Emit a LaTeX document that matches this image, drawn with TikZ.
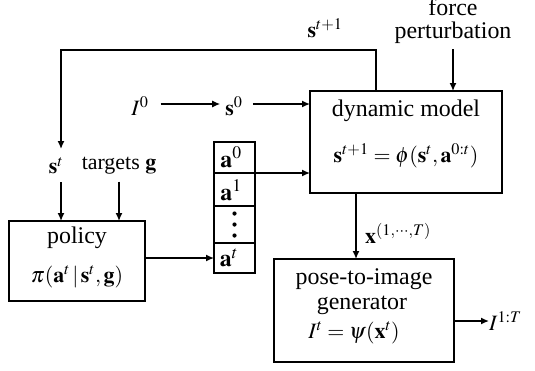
\documentclass[tikz,border=0pt]{standalone}
\usepackage{mathptmx}
\usepackage{fontspec}
\setmainfont{Liberation Serif}
\usetikzlibrary{arrows.meta}
\begin{document}
\begin{tikzpicture}[x=1bp,y=-1bp,
  box/.style={draw, line width=1.6bp, inner sep=0pt, outer sep=0pt},
  arr/.style={line width=1.4bp, -{Latex[length=8bp,width=7bp]}},
  txt/.style={inner sep=0pt, font=\fontsize{24}{28}\selectfont},
  lab/.style={inner sep=0pt, font=\fontsize{22}{26}\selectfont},
  cell/.style={inner sep=0pt, font=\fontsize{24}{28}\selectfont}]
\useasboundingbox (0,0) rectangle (535,370);

% boxes
\node[box, minimum width=192bp, minimum height=102bp] (dyn) at (406,142) {};
\node[box, minimum width=136bp, minimum height=80bp] (pol) at (77,261) {};
\node[box, minimum width=180bp, minimum height=103bp] (pose) at (364,310.5) {};

% action stack
\node[box, minimum width=41bp, minimum height=31bp] (a0) at (234.5,157.5) {};
\node[box, minimum width=41bp, minimum height=33bp] (a1) at (234.5,189.5) {};
\node[box, minimum width=41bp, minimum height=37bp] (ad) at (234.5,224.5) {};
\node[box, minimum width=41bp, minimum height=30bp] (at) at (234.5,258) {};
\node[cell] (a0t) at (231,157) {$\mathbf{a}^0$};
\node[cell] (a1t) at (231,190) {$\mathbf{a}^1$};
\foreach \yy in {213.5,224.5,235.5} \fill (234.5,\yy) circle (2.1bp);
\node[cell] (att) at (229,258) {$\mathbf{a}^t$};

% texts in boxes
\node[txt] (dyntxt) at (406,111) {dynamic model};
\node[lab] (dynf) at (406,156) {$\mathbf{s}^{t+1} = \phi(\mathbf{s}^t, \mathbf{a}^{0:t})$};
\node[txt] (poltxt) at (77,238) {policy};
\node[lab] (polf) at (77,277) {$\pi(\mathbf{a}^t\,|\,\mathbf{s}^t, \mathbf{g})$};
\node[txt] (pose1) at (364,279) {pose-to-image};
\node[txt] (pose2) at (362,305) {generator};
\node[lab] (posef) at (354,333) {$I^t = \psi(\mathbf{x}^t)$};

% outside labels
\node[txt, anchor=base] (force) at (453,15.5) {force};
\node[txt] (pert) at (453,33) {perturbation};
\node[lab] (st1) at (325,28) {$\mathbf{s}^{t+1}$};
\node[lab] (I0) at (140,106) {$I^0$};
\node[lab] (s0) at (234,106) {$\mathbf{s}^0$};
\node[lab, anchor=north] (st) at (56,157) {$\mathbf{s}^t$};
\node[lab] (tg) at (119,166) {targets $\mathbf{g}$};
\node[lab, anchor=west] (x) at (365,233) {$\mathbf{x}^{(1,\cdots,T)}$};
\node[lab, anchor=west] (Iout) at (489,321) {$I^{1:T}$};

% connectors
\coordinate (fb) at (376,50);
\draw[arr] ([yshift=-5bp]pert.south) -- (pert.south |- dyn.north);
\draw[arr] (dyn.north -| fb) -- (fb) -| ([xshift=5bp,yshift=8bp]st.north);
\draw[arr] ([xshift=12bp,yshift=2bp]I0.east) -- ([xshift=-5bp,yshift=2bp]s0.west);
\draw[arr] ([xshift=10bp,yshift=2bp]s0.east) -- ([yshift=2bp]s0.east -| dyn.west);
\draw[arr] (a0.south east) -- (a0.south east -| dyn.west);
\draw[arr] ([xshift=5bp,yshift=-8bp]st.south) -- ([xshift=5bp]st.south |- pol.north);
\draw[arr] ([yshift=-7bp]tg.south) -- (tg.south |- pol.north);
\draw[arr] (pol.east |- at.west) -- (at.west);
\draw[arr] (dyn.south -| 356,0) -- (pose.north -| 356,0);
\draw[arr] (pose.east |- Iout.west) -- (Iout.west);
\end{tikzpicture}
\end{document}
